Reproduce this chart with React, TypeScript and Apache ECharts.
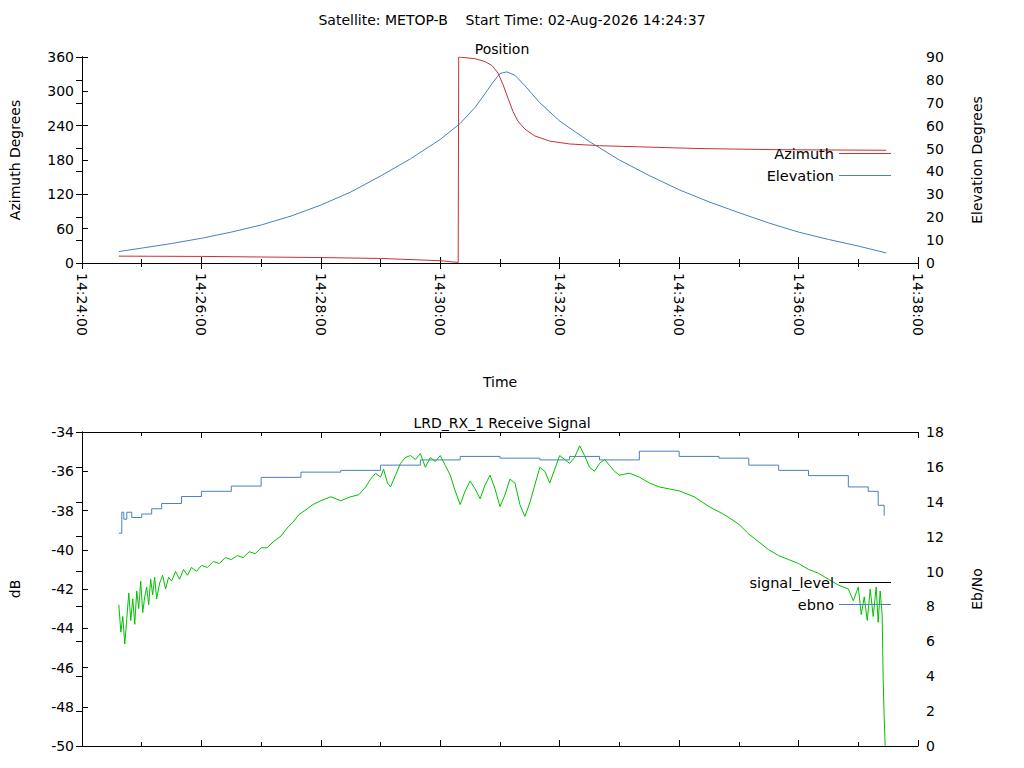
import React, { useEffect, useRef } from "react";
import * as echarts from "echarts";

// seconds from 14:24:00
const elevTime = [37, 60, 90, 120, 150, 180, 210, 240, 270, 300, 330, 360, 380, 395, 405, 413, 420, 427, 435, 445, 460, 480, 510, 540, 570, 600, 630, 660, 690, 720, 750, 780, 808];
const elevDeg = [5, 6.5, 8.5, 10.8, 13.5, 16.6, 20.5, 25.3, 31, 38, 45.5, 54, 61, 68, 74, 79, 82.8, 83.5, 82, 77.5, 70, 62, 53, 45, 38.2, 32, 26.7, 22, 17.5, 13.5, 10.3, 7.4, 4.4];

const azTime = [37, 120, 240, 300, 360, 378, 378.5, 395, 405, 412, 418, 423, 428, 433, 438, 445, 455, 470, 490, 520, 560, 620, 700, 808];
const azDeg = [12, 11.5, 9.5, 8, 4, 1, 360, 357, 352, 345, 332, 312, 288, 265, 248, 234, 222, 213, 208, 205, 203, 200, 198, 197];

const sigTime = [37, 39, 41, 43, 45, 47, 49, 51, 53, 55, 57, 59, 61, 63, 65, 67, 69, 71, 73, 75, 78, 81, 84, 87, 90, 94, 98, 102, 106, 110, 115, 120, 126, 132, 138, 144, 150, 156, 162, 168, 174, 180, 186, 192, 200, 206, 212, 218, 224, 232, 240, 250, 260, 270, 278, 285, 290, 295, 300, 303, 307, 310, 315, 320, 325, 330, 335, 340, 345, 350, 355, 360, 365, 370, 375, 380, 385, 390, 395, 400, 405, 410, 415, 420, 425, 430, 435, 440, 445, 450, 455, 460, 465, 470, 475, 480, 485, 490, 495, 500, 505, 510, 515, 520, 525, 530, 535, 540, 550, 560, 570, 580, 590, 600, 615, 630, 645, 660, 670, 680, 690, 700, 710, 720, 730, 740, 750, 760, 770, 775, 780, 783, 786, 789, 792, 795, 798, 800, 802, 804, 805, 806, 807];
const sigDb = [-42.8, -44.2, -43.4, -44.8, -43.5, -42.2, -43.6, -42.5, -43.8, -42.1, -43.0, -41.6, -43.2, -42.4, -41.9, -42.8, -41.5, -42.3, -41.4, -42.5, -41.7, -41.3, -42.0, -41.4, -41.6, -41.1, -41.5, -41.0, -41.3, -40.9, -41.1, -40.8, -40.9, -40.6, -40.7, -40.4, -40.5, -40.3, -40.4, -40.1, -40.2, -39.9, -39.9, -39.6, -39.3, -38.9, -38.6, -38.2, -38.0, -37.7, -37.5, -37.3, -37.5, -37.3, -37.2, -36.8, -36.4, -36.1, -36.3, -35.9, -36.6, -36.8, -36.2, -35.6, -35.3, -35.2, -35.4, -35.1, -35.8, -35.3, -35.5, -35.2, -35.7, -36.2, -37.0, -37.7, -37.0, -36.5, -36.9, -37.4, -36.7, -36.2, -36.9, -37.8, -37.2, -36.4, -36.6, -37.7, -38.3, -37.6, -36.7, -35.8, -36.0, -36.6, -35.9, -35.2, -35.4, -35.6, -35.3, -34.7, -35.2, -35.8, -36.0, -35.6, -35.4, -35.7, -36.0, -36.2, -36.1, -36.3, -36.6, -36.8, -36.9, -37.0, -37.3, -37.8, -38.2, -38.7, -39.2, -39.6, -40.0, -40.3, -40.5, -40.7, -41.0, -41.2, -41.5, -41.8, -42.0, -42.6, -41.9, -43.3, -42.4, -43.6, -42.0, -43.4, -41.9, -43.7, -42.1, -43.3, -46.6, -48.5, -50];

const ebTime = [37, 40, 42, 45, 50, 60, 70, 80, 100, 120, 150, 180, 220, 260, 300, 340, 380, 420, 460, 490, 520, 560, 600, 640, 670, 700, 730, 770, 790, 800, 806];
const ebNo = [12.2, 13.4, 13.0, 13.4, 13.1, 13.3, 13.6, 13.9, 14.3, 14.6, 14.9, 15.4, 15.7, 15.8, 16.1, 16.4, 16.6, 16.5, 16.4, 16.6, 16.4, 16.9, 16.6, 16.5, 16.1, 15.8, 15.5, 14.85, 14.6, 13.8, 13.2];

const RED = "#cc3030";
const BLUE = "#4a7fc0";
const GREEN = "#00c000";
const FONT = "DejaVu Sans";

const pad = (n: number) => String(n).padStart(2, "0");
const fmtTime = (s: number) => {
  const t = 14 * 3600 + 24 * 60 + s;
  return `${pad(Math.floor(t / 3600))}:${pad(Math.floor((t % 3600) / 60))}:${pad(t % 60)}`;
};
const zip = (a: number[], b: number[]) => a.map((v, i) => [v, b[i]]);

const App: React.FC = () => {
  const chartRef = useRef<HTMLDivElement | null>(null);

  useEffect(() => {
    document.body.style.margin = "0";
    if (!chartRef.current) return;
    const chart = echarts.init(chartRef.current, undefined, { renderer: "svg" });

    const txt = { color: "#000", fontFamily: FONT, fontSize: 14 };
    const line = { lineStyle: { color: "#000", width: 1 } };
    const xBase = (grid: number, pos: "top" | "bottom", labels: boolean) => ({
      type: "value" as const,
      gridIndex: grid,
      position: pos,
      min: 0,
      max: 840,
      interval: 120,
      axisLine: { show: true, ...line },
      axisTick: { show: true, inside: true, length: 6, ...line },
      minorTick: { show: true, splitNumber: 2, length: 4, ...line },
      splitLine: { show: false },
      axisLabel: labels
        ? { show: true, rotate: -90, formatter: (v: number) => fmtTime(v), margin: 10, ...txt }
        : { show: false },
    });
    const yBase = (grid: number, pos: "left" | "right", min: number, max: number, interval: number, name: string) => ({
      type: "value" as const,
      gridIndex: grid,
      position: pos,
      min,
      max,
      interval,
      name,
      nameLocation: "middle" as const,
      nameGap: pos === "left" ? 60 : 52,
      nameRotate: 90,
      nameTextStyle: txt,
      axisLine: { show: true, ...line },
      axisTick: { show: true, inside: true, length: 6, ...line },
      splitLine: { show: false },
      axisLabel: { margin: 8, ...txt },
    });
    const legendBase = {
      orient: "vertical" as const,
      align: "right" as const,
      itemWidth: 52,
      itemHeight: 1,
      itemGap: 7,
      icon: "rect",
      textStyle: { ...txt, fontSize: 14.5 },
    };

    const option: echarts.EChartsOption = {
      animation: false,
      backgroundColor: "#fff",
      title: [
        { text: "Satellite: METOP-B    Start Time: 02-Aug-2026 14:24:37", left: "center", top: 8, textStyle: { ...txt, fontWeight: "normal" } },
        { text: "Position", left: 497, textAlign: "center", top: 37, textStyle: { ...txt, fontWeight: "normal" } },
        { text: "Time", left: 495, textAlign: "center", top: 370, textStyle: { ...txt, fontWeight: "normal" } },
        { text: "LRD_RX_1 Receive Signal", left: 497, textAlign: "center", top: 411, textStyle: { ...txt, fontWeight: "normal" } },
      ],
      grid: [
        { left: 80, right: 106, top: 57, height: 206 },
        { left: 80, right: 106, top: 432, height: 314 },
      ],
      legend: [
        { ...legendBase, right: 128, top: 141, data: ["Azimuth", "Elevation"] },
        { ...legendBase, right: 128, top: 570, data: ["signal_level", "ebno"] },
      ],
      xAxis: [xBase(0, "bottom", true), xBase(0, "top", false), xBase(1, "bottom", false), xBase(1, "top", false)],
      yAxis: [
        yBase(0, "left", 0, 360, 60, "Azimuth Degrees"),
        yBase(0, "right", 0, 90, 10, "Elevation Degrees"),
        yBase(1, "left", -50, -34, 2, "dB"),
        yBase(1, "right", 0, 18, 2, "Eb/No"),
      ],
      series: [
        { name: "Azimuth", type: "line", xAxisIndex: 0, yAxisIndex: 0, data: zip(azTime, azDeg), showSymbol: false, color: RED, lineStyle: { width: 1 } },
        { name: "Elevation", type: "line", xAxisIndex: 0, yAxisIndex: 1, data: zip(elevTime, elevDeg), showSymbol: false, color: BLUE, lineStyle: { width: 1 } },
        { name: "signal_level", type: "line", xAxisIndex: 2, yAxisIndex: 2, data: [], showSymbol: false, color: "#000", lineStyle: { width: 1 } },
        { name: "ebno", type: "line", xAxisIndex: 2, yAxisIndex: 3, step: "end", data: zip(ebTime, ebNo), showSymbol: false, color: BLUE, lineStyle: { width: 1 } },
        { name: "signal", type: "line", xAxisIndex: 2, yAxisIndex: 2, data: zip(sigTime, sigDb), showSymbol: false, color: GREEN, lineStyle: { width: 1 } },
      ],
    };

    chart.setOption(option);
    return () => chart.dispose();
  }, []);

  return <div ref={chartRef} style={{ width: 1024, height: 768 }} />;
};

export default App;
